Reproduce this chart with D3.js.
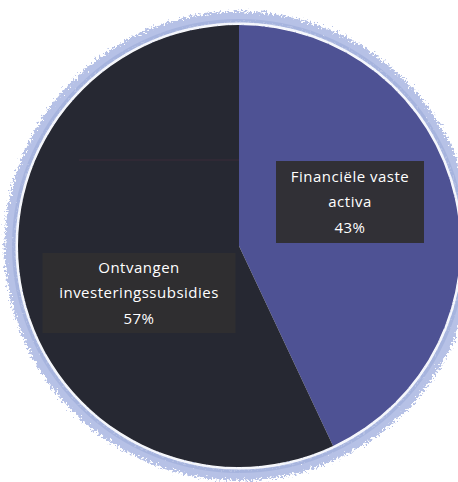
<!DOCTYPE html>
<html>
<head>
<meta charset="utf-8">
<script src="https://cdn.jsdelivr.net/npm/d3@7"></script>
<style>
  html, body { margin: 0; padding: 0; background: #ffffff; }
  svg { display: block; }
</style>
</head>
<body>
<svg id="chart" width="458" height="482"></svg>
<script>
// Samenstelling van de passiva (percentages)
const categories = ["Financiële vaste activa", "Ontvangen investeringssubsidies"];
const values = [43, 57];
const labelLines = [["Financiële vaste", "activa"], ["Ontvangen", "investeringssubsidies"]];
const colors = ["#4e5294", "#262832"];

const svg = d3.select("#chart");
const cx = 239, cy = 246, radius = 221;

// soft, speckled halo around the disc
const defs = svg.append("defs");
const f = defs.append("filter").attr("id", "halo")
  .attr("x", "-20%").attr("y", "-20%").attr("width", "140%").attr("height", "140%");
f.append("feTurbulence").attr("type", "fractalNoise").attr("baseFrequency", 0.45)
  .attr("numOctaves", 2).attr("seed", 4).attr("result", "noise");
f.append("feDisplacementMap").attr("in", "SourceGraphic").attr("in2", "noise")
  .attr("scale", 12).attr("xChannelSelector", "R").attr("yChannelSelector", "G").attr("result", "disp");
f.append("feGaussianBlur").attr("in", "disp").attr("stdDeviation", 0.7);

const g = svg.append("g").attr("transform", `translate(${cx},${cy})`);

g.append("circle")
  .attr("r", radius + 8)
  .attr("fill", "none")
  .attr("stroke", "#b6c1e6")
  .attr("stroke-width", 11)
  .attr("filter", "url(#halo)");

g.append("circle")
  .attr("r", radius + 4)
  .attr("fill", "none")
  .attr("stroke", "#a3b0dc")
  .attr("stroke-width", 4)
  .attr("opacity", 0.8);

g.append("circle")
  .attr("r", radius + 1.5)
  .attr("fill", "none")
  .attr("stroke", "#f4f6fc")
  .attr("stroke-width", 2);

const pie = d3.pie().sort(null).value(d => d.value);
const data = categories.map((c, i) => ({ name: c, value: values[i], lines: labelLines[i], color: colors[i] }));
const arcs = pie(data);
const arc = d3.arc().innerRadius(0).outerRadius(radius);

g.selectAll("path.slice")
  .data(arcs)
  .join("path")
  .attr("class", "slice")
  .attr("d", arc)
  .attr("fill", d => d.data.color);

// faint horizontal scan line across the dark slice
g.append("line")
  .attr("x1", -160).attr("x2", 0).attr("y1", -86).attr("y2", -86)
  .attr("stroke", "#4a2e3c").attr("stroke-width", 1).attr("opacity", 0.6);

// data labels in dark boxes
const labelPos = [[111, -44], [-100, 47]];
const boxSize = [[148, 82], [193, 80]];
const lineH = 25.5;

const labels = g.selectAll("g.label")
  .data(arcs)
  .join("g")
  .attr("class", "label")
  .attr("transform", (d, i) => `translate(${labelPos[i][0]},${labelPos[i][1]})`);

labels.append("rect")
  .attr("x", (d, i) => -boxSize[i][0] / 2)
  .attr("y", (d, i) => -boxSize[i][1] / 2)
  .attr("width", (d, i) => boxSize[i][0])
  .attr("height", (d, i) => boxSize[i][1])
  .attr("fill", "#2f2e30")
  .attr("opacity", 0.95);

labels.each(function(d) {
  const lines = d.data.lines.concat([d.data.value + "%"]);
  const t = d3.select(this).append("text")
    .attr("text-anchor", "middle")
    .attr("fill", "#ffffff")
    .style("font-family", "'Open Sans', sans-serif")
    .style("font-size", "15px")
    .style("letter-spacing", "0.5px");
  lines.forEach((ln, k) => {
    t.append("tspan")
      .attr("x", 0)
      .attr("y", (k - 1) * lineH + 5)
      .text(ln);
  });
});
</script>
</body>
</html>
